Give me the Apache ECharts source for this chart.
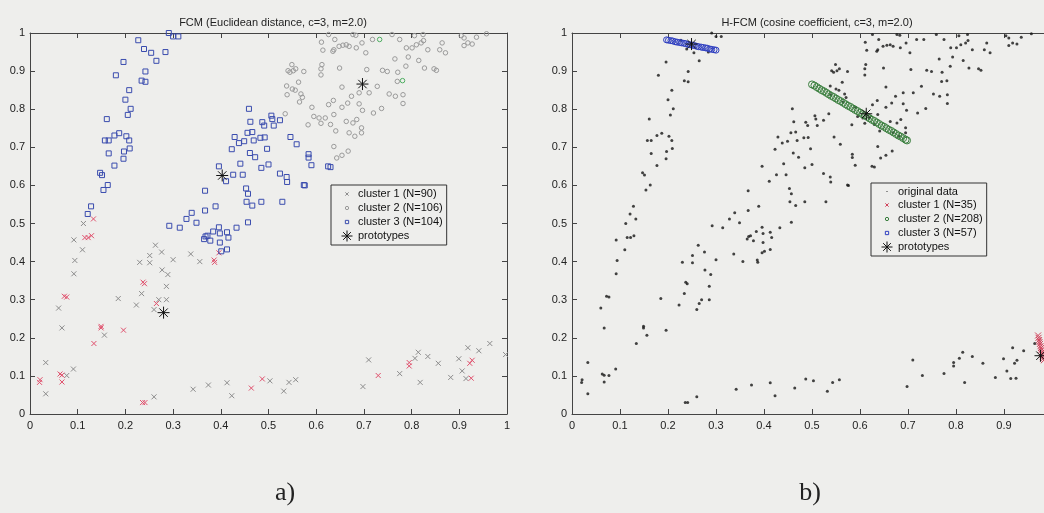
<!DOCTYPE html>
<html>
<head>
<meta charset="utf-8">
<script src="https://cdn.jsdelivr.net/npm/echarts@6/dist/echarts.min.js"></script>
<style>
  html, body { margin: 0; padding: 0; background: #eeeeec; }
  #chart { width: 1044px; height: 513px; }
</style>
</head>
<body>
<div id="chart"></div>
<script>
// ---- data -------------------------------------------------------------
const tickLabels = ['0', '0.1', '0.2', '0.3', '0.4', '0.5', '0.6', '0.7', '0.8', '0.9', '1'];

// cluster 1 (FCM), high-membership points
const cluster1Strong = [
  [0.133,0.512],[0.115,0.463],[0.122,0.463],[0.129,0.468],[0.072,0.309],[0.077,0.307],
  [0.149,0.230],[0.149,0.226],[0.134,0.185],[0.196,0.220],[0.237,0.346],[0.240,0.342],
  [0.265,0.290],[0.386,0.404],[0.387,0.398],[0.396,0.423],[0.021,0.090],[0.020,0.083],
  [0.063,0.105],[0.067,0.102],[0.067,0.084],[0.236,0.030],[0.241,0.030],[0.464,0.068],
  [0.487,0.092],[0.730,0.101],[0.795,0.135],[0.795,0.126],[0.922,0.133],[0.927,0.141],
  [0.925,0.094]
];
// cluster 1 (FCM), remaining points
const cluster1Weak = [
  [0.112,0.500],[0.092,0.457],[0.110,0.431],[0.094,0.403],[0.092,0.368],[0.060,0.278],
  [0.067,0.226],[0.156,0.207],[0.185,0.303],[0.223,0.286],[0.234,0.316],[0.230,0.398],
  [0.251,0.416],[0.251,0.397],[0.263,0.443],[0.276,0.425],[0.277,0.378],[0.289,0.366],
  [0.286,0.335],[0.300,0.405],[0.270,0.300],[0.286,0.300],[0.260,0.274],[0.337,0.420],
  [0.356,0.400],[0.033,0.135],[0.033,0.053],[0.077,0.101],[0.091,0.118],[0.260,0.045],
  [0.342,0.065],[0.374,0.076],[0.413,0.082],[0.423,0.048],[0.503,0.087],[0.532,0.060],
  [0.543,0.083],[0.557,0.090],[0.698,0.072],[0.710,0.142],[0.775,0.106],[0.807,0.146],
  [0.814,0.162],[0.818,0.083],[0.834,0.151],[0.856,0.133],[0.882,0.096],[0.899,0.145],
  [0.906,0.113],[0.918,0.174],[0.914,0.093],[0.941,0.166],[0.964,0.185],[0.997,0.156]
];
// cluster 2 (FCM)
const cluster2Grey = [
  [0.538,0.861],[0.549,0.917],[0.541,0.901],[0.545,0.897],[0.552,0.901],[0.557,0.906],
  [0.574,0.899],[0.539,0.838],[0.550,0.853],[0.556,0.850],[0.563,0.871],[0.568,0.840],
  [0.571,0.831],[0.565,0.819],[0.591,0.805],[0.595,0.781],[0.606,0.777],[0.583,0.759],
  [0.610,0.763],[0.619,0.777],[0.626,0.812],[0.636,0.823],[0.637,0.786],[0.630,0.760],
  [0.641,0.743],[0.610,0.906],[0.612,0.917],[0.610,0.890],[0.611,0.976],[0.614,0.955],
  [0.626,0.996],[0.635,0.952],[0.637,0.956],[0.648,0.965],[0.656,0.968],[0.663,0.969],
  [0.639,0.983],[0.649,0.908],[0.654,0.858],[0.669,0.965],[0.684,0.961],[0.677,0.996],
  [0.683,0.994],[0.696,0.974],[0.704,0.948],[0.706,0.904],[0.718,0.983],[0.759,0.996],
  [0.775,0.983],[0.806,0.993],[0.824,0.996],[0.789,0.961],[0.801,0.961],[0.810,0.969],
  [0.820,0.974],[0.825,0.980],[0.834,0.956],[0.765,0.932],[0.793,0.937],[0.815,0.928],
  [0.788,0.913],[0.749,0.899],[0.739,0.902],[0.771,0.897],[0.770,0.873],[0.827,0.908],
  [0.847,0.906],[0.852,0.902],[0.859,0.956],[0.864,0.974],[0.871,0.948],[0.904,0.993],
  [0.910,0.987],[0.918,0.974],[0.927,0.971],[0.936,0.989],[0.910,0.967],[0.957,0.998],
  [0.728,0.860],[0.753,0.840],[0.766,0.834],[0.782,0.838],[0.782,0.815],[0.737,0.802],
  [0.720,0.790],[0.711,0.843],[0.690,0.843],[0.690,0.814],[0.674,0.834],[0.666,0.816],
  [0.654,0.805],[0.677,0.764],[0.685,0.773],[0.695,0.751],[0.695,0.738],[0.669,0.738],
  [0.681,0.729],[0.697,0.797],[0.663,0.768],[0.667,0.690],[0.654,0.679],[0.637,0.702],
  [0.643,0.672],[0.535,0.788]
];
const cluster2Green = [[0.733,0.983],[0.781,0.875]];
// cluster 3 (FCM)
const cluster3 = [
  [0.291,1.000],[0.300,0.991],[0.311,0.991],[0.227,0.981],[0.239,0.958],[0.254,0.948],
  [0.265,0.927],[0.284,0.950],[0.196,0.924],[0.180,0.889],[0.242,0.899],[0.234,0.875],
  [0.242,0.872],[0.208,0.850],[0.200,0.825],[0.211,0.801],[0.205,0.785],[0.161,0.774],
  [0.157,0.718],[0.165,0.718],[0.177,0.731],[0.187,0.737],[0.202,0.729],[0.208,0.718],
  [0.197,0.689],[0.209,0.697],[0.165,0.684],[0.196,0.670],[0.177,0.652],[0.147,0.633],
  [0.151,0.627],[0.163,0.601],[0.154,0.588],[0.128,0.545],[0.121,0.525],
  [0.396,0.650],[0.411,0.611],[0.426,0.628],[0.446,0.628],[0.453,0.592],[0.367,0.586],
  [0.457,0.578],[0.454,0.557],[0.466,0.547],[0.485,0.557],[0.529,0.557],[0.457,0.503],
  [0.389,0.545],[0.367,0.534],[0.339,0.528],[0.328,0.512],[0.349,0.502],[0.314,0.489],
  [0.292,0.494],[0.433,0.489],[0.413,0.477],[0.396,0.490],[0.365,0.459],[0.368,0.466],
  [0.372,0.468],[0.378,0.455],[0.384,0.479],[0.398,0.474],[0.398,0.450],[0.401,0.427],
  [0.413,0.432],[0.416,0.463],
  [0.459,0.801],[0.506,0.783],[0.508,0.774],[0.524,0.771],[0.491,0.757],[0.511,0.757],
  [0.487,0.766],[0.462,0.767],[0.429,0.727],[0.438,0.711],[0.456,0.738],[0.466,0.740],
  [0.449,0.716],[0.469,0.718],[0.483,0.725],[0.492,0.726],[0.461,0.685],[0.472,0.674],
  [0.441,0.657],[0.423,0.695],[0.497,0.696],[0.485,0.646],[0.500,0.655],[0.524,0.631],
  [0.538,0.622],[0.539,0.609],[0.546,0.727],[0.559,0.708],[0.584,0.682],[0.584,0.673],
  [0.590,0.653],[0.574,0.601],[0.576,0.600],[0.625,0.650],[0.630,0.648]
];
const prototypesFCM = [[0.280,0.266],[0.403,0.626],[0.697,0.866]];

// H-FCM: transformed cluster members and prototypes
const hCluster1 = [
  [0.971,0.206],[0.972,0.200],[0.973,0.194],[0.974,0.189],[0.975,0.184],[0.976,0.178],
  [0.977,0.173],[0.978,0.168],[0.979,0.162],[0.980,0.157],[0.981,0.151],[0.982,0.146],
  [0.983,0.141]
];
const hCluster2 = [
  [0.500,0.865],[0.505,0.862],[0.510,0.858],[0.515,0.854],[0.520,0.850],[0.525,0.847],
  [0.530,0.843],[0.535,0.839],[0.540,0.835],[0.545,0.832],[0.550,0.828],[0.555,0.824],
  [0.560,0.821],[0.565,0.817],[0.570,0.813],[0.575,0.809],[0.580,0.806],[0.585,0.802],
  [0.590,0.798],[0.595,0.795],[0.600,0.791],[0.605,0.787],[0.610,0.784],[0.615,0.780],
  [0.620,0.776],[0.625,0.772],[0.630,0.769],[0.635,0.765],[0.640,0.761],[0.645,0.757],
  [0.650,0.754],[0.655,0.750],[0.660,0.746],[0.665,0.743],[0.670,0.739],[0.675,0.735],
  [0.680,0.731],[0.685,0.728],[0.690,0.724],[0.695,0.720],[0.698,0.718]
];
const hCluster3 = [
  [0.197,0.982],[0.201,0.981],[0.206,0.980],[0.210,0.979],[0.215,0.977],[0.219,0.976],
  [0.224,0.975],[0.228,0.974],[0.233,0.973],[0.237,0.972],[0.242,0.970],[0.246,0.969],
  [0.251,0.968],[0.255,0.967],[0.260,0.965],[0.264,0.964],[0.269,0.963],[0.273,0.962],
  [0.278,0.961],[0.282,0.960],[0.287,0.958],[0.291,0.957],[0.296,0.956],[0.300,0.955]
];
const prototypesHFCM = [[0.249,0.971],[0.613,0.788],[0.976,0.153]];

// all samples, shown as plain dots in the second panel
const originalData = [].concat(cluster1Strong, cluster1Weak, cluster2Grey, cluster2Green, cluster3);

// ---- styling ----------------------------------------------------------
const FONT = '"Liberation Sans", Arial, sans-serif';
const AXIS = '#444';
const BG = '#eeeeec';

// marker shapes
const CROSS = 'path://M0 0L10 10M10 0L0 10';
const STAR = 'path://M10 0L10 20M0 10L20 10M3 3L17 17M17 3L3 17';
// legend icons: same shapes, padded so they render small inside the icon box
const L_CROSS = 'path://M0 0M20 20M7 7L13 13M13 7L7 13';
const L_CIRCLE = 'path://M0 0M20 20M13 10A3 3 0 1 1 7 10A3 3 0 1 1 13 10Z';
const L_SQUARE = 'path://M0 0M20 20M7 7L13 7L13 13L7 13Z';
const L_DOT = 'path://M0 0M20 20M9 9L11 9L11 11L9 11Z';

// second panel runs past the right edge of the canvas
const grids = [
  { left: 30, top: 33, width: 477, height: 381, outerBoundsMode: 'none', containLabel: false },
  { left: 572, top: 33, width: 480, height: 381, outerBoundsMode: 'none', containLabel: false }
];

function valueAxis(gridIndex, position, labelled) {
  return {
    type: 'value', gridIndex, position, min: 0, max: 1, interval: 0.1,
    axisLine: { show: true, onZero: false, lineStyle: { color: AXIS, width: 1 } },
    axisTick: { show: true, inside: true, length: 5, lineStyle: { color: AXIS } },
    splitLine: { show: false },
    axisLabel: {
      show: labelled, color: '#222', fontFamily: FONT, fontSize: 11,
      margin: position === 'bottom' ? 6 : 5,
      formatter: v => tickLabels[Math.round(v * 10)]
    }
  };
}

const xAxis = [
  valueAxis(0, 'bottom', true), valueAxis(0, 'top', false),
  valueAxis(1, 'bottom', true), valueAxis(1, 'top', false)
];
const yAxis = [
  valueAxis(0, 'left', true), valueAxis(0, 'right', false),
  valueAxis(1, 'left', true), valueAxis(1, 'right', false)
];

function outlined(name, data, axis, symbol, size, color, z) {
  return {
    type: 'scatter', name, data, xAxisIndex: axis, yAxisIndex: axis,
    symbol, symbolSize: size, z: z || 2,
    itemStyle: { color: 'transparent', borderColor: color, borderWidth: 1, opacity: 1 },
    emphasis: { disabled: true }, animation: false
  };
}

const series = [
  // FCM panel
  outlined('cluster 1 (N=90)', cluster1Weak, 0, CROSS, 5, '#8c8c8c'),
  outlined('cluster 1 (N=90)', cluster1Strong, 0, CROSS, 5, '#e0506c'),
  outlined('cluster 2 (N=106)', cluster2Grey, 0, 'circle', 4.5, '#9a9a9a'),
  outlined('cluster 2 (N=106)', cluster2Green, 0, 'circle', 4.5, '#4fae62'),
  outlined('cluster 3 (N=104)', cluster3, 0, 'rect', 5, '#3a4cae'),
  outlined('prototypes', prototypesFCM, 0, STAR, 12, '#111', 5),
  // H-FCM panel
  {
    type: 'scatter', name: 'original data', data: originalData, xAxisIndex: 2, yAxisIndex: 2,
    symbol: 'circle', symbolSize: 3, itemStyle: { color: '#151515' },
    emphasis: { disabled: true }, animation: false
  },
  outlined('cluster 1 (N=35)', hCluster1, 2, CROSS, 6, '#d0405a', 3),
  outlined('cluster 2 (N=208)', hCluster2, 2, 'circle', 7, '#3a7f3e', 3),
  outlined('cluster 3 (N=57)', hCluster3, 2, 'circle', 6, '#2f3fc0', 3),
  outlined('prototypes', prototypesHFCM, 2, STAR, 12, '#111', 5)
];

const legendBase = {
  orient: 'vertical', itemWidth: 12, itemHeight: 11, itemGap: 2, itemTextGap: 10,
  padding: [3, 4, 3, 10], borderColor: '#333', borderWidth: 1, backgroundColor: BG,
  textStyle: { fontFamily: FONT, fontSize: 11, color: '#111' },
  itemStyle: { borderWidth: 1 }, selectedMode: false, symbolKeepAspect: true
};

const option = {
  backgroundColor: BG,
  animation: false,
  grid: grids,
  xAxis, yAxis, series,
  title: [
    { text: 'FCM (Euclidean distance, c=3, m=2.0)', left: 268, top: 12, textAlign: 'center',
      textStyle: { fontFamily: FONT, fontSize: 11, fontWeight: 'normal', color: '#222' } },
    { text: 'H-FCM (cosine coefficient, c=3, m=2.0)', left: 812, top: 12, textAlign: 'center',
      textStyle: { fontFamily: FONT, fontSize: 11, fontWeight: 'normal', color: '#222' } },
    { text: 'a)', left: 280, top: 475, textAlign: 'center',
      textStyle: { fontFamily: '"Liberation Serif", serif', fontSize: 26, fontWeight: 'normal', color: '#222' } },
    { text: 'b)', left: 805, top: 475, textAlign: 'center',
      textStyle: { fontFamily: '"Liberation Serif", serif', fontSize: 26, fontWeight: 'normal', color: '#222' } }
  ],
  legend: [
    Object.assign({}, legendBase, {
      left: 331, top: 185,
      data: [
        { name: 'cluster 1 (N=90)', icon: L_CROSS },
        { name: 'cluster 2 (N=106)', icon: L_CIRCLE },
        { name: 'cluster 3 (N=104)', icon: L_SQUARE },
        { name: 'prototypes', icon: STAR }
      ]
    }),
    Object.assign({}, legendBase, {
      left: 871, top: 183,
      data: [
        { name: 'original data', icon: L_DOT },
        { name: 'cluster 1 (N=35)', icon: L_CROSS },
        { name: 'cluster 2 (N=208)', icon: L_CIRCLE },
        { name: 'cluster 3 (N=57)', icon: L_SQUARE },
        { name: 'prototypes', icon: STAR }
      ]
    })
  ]
};

const chart = echarts.init(document.getElementById('chart'), null, { renderer: 'canvas' });
chart.setOption(option);
</script>
</body>
</html>
